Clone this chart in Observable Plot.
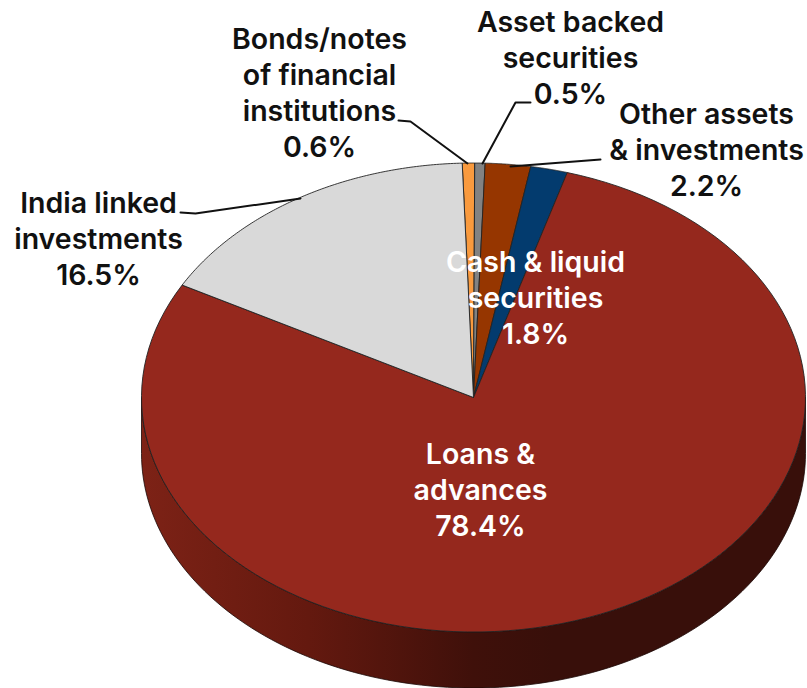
<!DOCTYPE html>
<html>
<head>
<meta charset="utf-8">
<style>html,body{margin:0;padding:0;background:#fff}svg{display:block}</style>
<script src="https://cdn.jsdelivr.net/npm/d3@7"></script>
<script src="https://cdn.jsdelivr.net/npm/@observablehq/plot@0.6"></script>
</head>
<body>
<script>
// Data, clockwise from the top of the pie
const categories = ["Bonds/notes of financial institutions","Asset backed securities","Other assets & investments","Cash & liquid securities","Loans & advances","India linked investments"];
const shares = [0.6, 0.5, 2.2, 1.8, 78.4, 16.5];

// Layout
const palette = ["#f99a3e","#828282","#963600","#033b6e","#95281d","#d9d9d9"];
const W = 807, H = 688, cx = 473, cy = 397, rx = 332, ry = 234.5, depth = 56, startDeg = -1.95;
const labelText = [
  "Bonds/notes\nof financial\ninstitutions\n0.6%",
  "Asset backed\nsecurities\n0.5%",
  "Other assets\n& investments\n2.2%",
  "Cash & liquid\nsecurities\n1.8%",
  "Loans &\nadvances\n78.4%",
  "India linked\ninvestments\n16.5%"
];
const labelX = [319, 570, 706, 535, 480, 98];
const labelY = [91, 56, 148, 296, 488, 237];
const labelFill = ["#111","#111","#111","#fff","#fff","#111"];
const leaders = [
  [[398,120],[410,121],[467,163]],
  [[530,102],[515,102],[482,163]],
  [[600,159],[510,166]],
  [[180,212],[195,213],[300,198]]
];

const rad = d => d * Math.PI / 180;
const px = (t, dy = 0) => ({x: cx + rx * Math.sin(t), y: cy + dy - ry * Math.cos(t)});
const arc = (a, b, dy = 0) => d3.range(0, 121).map(i => px(a + (b - a) * i / 120, dy));

// Slice polygons derived from the shares
const total = d3.sum(shares);
let cum = rad(startDeg);
const slices = shares.map((v, i) => {
  const a = cum, b = cum + v / total * 2 * Math.PI;
  cum = b;
  const c = {x: cx, y: cy};
  return {fill: palette[i], name: categories[i], pts: [c, ...arc(a, b), c]};
});
const side = [...arc(Math.PI / 2, 3 * Math.PI / 2), ...arc(3 * Math.PI / 2, Math.PI / 2, depth)];
side.push(side[0]);

const defs = () => {
  const s = d3.create("svg:defs");
  const g = s.append("linearGradient").attr("id", "sideGrad").attr("gradientUnits", "userSpaceOnUse")
    .attr("x1", cx - rx).attr("x2", cx + rx).attr("y1", 0).attr("y2", 0);
  [[0, "#7d2216"], [0.25, "#64190f"], [0.5, "#3f100a"], [0.62, "#380f0a"], [1, "#380f0a"]]
    .forEach(([o, c]) => g.append("stop").attr("offset", o).attr("stop-color", c));
  return s.node();
};

const font = {fontFamily: "Inter, sans-serif", fontSize: 28.5, fontWeight: 600, lineHeight: 36 / 28.5, textAnchor: "middle", lineAnchor: "middle"};
const labels = labelText.map((t, i) => ({t, x: labelX[i], y: labelY[i], f: labelFill[i]}));

const chart = Plot.plot({
  width: W, height: H, margin: 0,
  style: {background: "#fff"},
  x: {domain: [0, W], range: [0, W], axis: null},
  y: {domain: [0, H], range: [0, H], axis: null},
  marks: [
    defs,
    Plot.line(side, {x: "x", y: "y", fill: "url(#sideGrad)", stroke: "#1a0805", strokeWidth: 0.8}),
    ...slices.map(s => Plot.line(s.pts, {x: "x", y: "y", fill: s.fill, stroke: "#222", strokeWidth: 0.9, title: () => s.name})),
    ...leaders.map(l => Plot.line(l, {x: d => d[0], y: d => d[1], stroke: "#111", strokeWidth: 2})),
    Plot.text(labels, {x: "x", y: "y", text: "t", fill: "f", ...font})
  ]
});
document.body.append(chart);
</script>
</body>
</html>
